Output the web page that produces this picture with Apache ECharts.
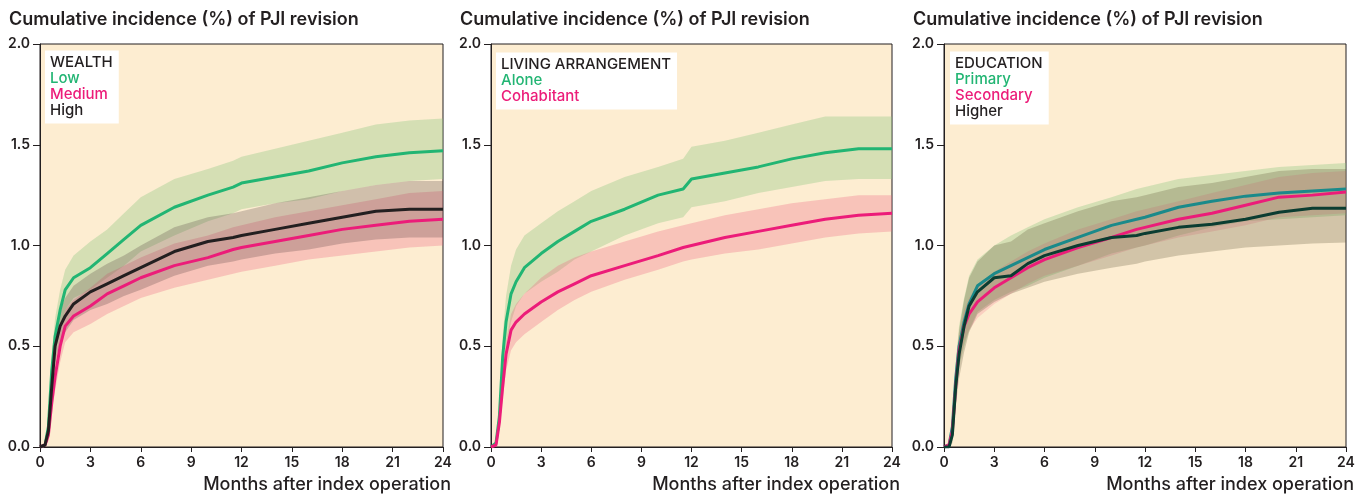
<!DOCTYPE html>
<html>
<head>
<meta charset="utf-8">
<script src="https://cdn.jsdelivr.net/npm/echarts@6/dist/echarts.min.js"></script>
<style>
  html, body { margin: 0; padding: 0; background: #fff; }
  #chart { width: 1356px; height: 495px; }
</style>
</head>
<body>
<div id="chart"></div>
<script>
  // months after index operation, shared by every curve
  const months = [0, 0.3, 0.5, 0.7, 0.9, 1.2, 1.5, 2, 3, 4, 5, 6, 8, 10, 11.5, 12, 14, 16, 18, 20, 22, 24];
  const xTicks = [0, 3, 6, 9, 12, 15, 18, 21, 24];
  const yTicks = [0, 0.5, 1.0, 1.5, 2.0];

  // WEALTH
  const wealthLow = [0, 0.01, 0.1, 0.38, 0.55, 0.68, 0.78, 0.84, 0.89, 0.96, 1.03, 1.1, 1.19, 1.25, 1.29, 1.31, 1.34, 1.37, 1.41, 1.44, 1.46, 1.47];
  const wealthLowLo = [0, 0, 0.06, 0.3, 0.46, 0.58, 0.68, 0.74, 0.78, 0.84, 0.9, 0.97, 1.05, 1.12, 1.16, 1.18, 1.21, 1.23, 1.27, 1.3, 1.32, 1.33];
  const wealthLowHi = [0, 0.02, 0.14, 0.46, 0.64, 0.78, 0.88, 0.95, 1.02, 1.08, 1.16, 1.24, 1.33, 1.38, 1.42, 1.44, 1.48, 1.52, 1.56, 1.6, 1.62, 1.63];
  const wealthMed = [0, 0.01, 0.06, 0.22, 0.35, 0.5, 0.6, 0.65, 0.7, 0.76, 0.8, 0.84, 0.9, 0.94, 0.98, 0.99, 1.02, 1.05, 1.08, 1.1, 1.12, 1.13];
  const wealthMedLo = [0, 0, 0.03, 0.16, 0.28, 0.42, 0.52, 0.57, 0.61, 0.66, 0.7, 0.74, 0.79, 0.83, 0.86, 0.87, 0.9, 0.93, 0.95, 0.97, 0.99, 1.0];
  const wealthMedHi = [0, 0.02, 0.1, 0.28, 0.42, 0.58, 0.68, 0.73, 0.79, 0.86, 0.9, 0.94, 1.01, 1.05, 1.09, 1.1, 1.14, 1.17, 1.2, 1.23, 1.26, 1.27];
  const wealthHigh = [0, 0.01, 0.08, 0.3, 0.5, 0.6, 0.65, 0.71, 0.77, 0.81, 0.85, 0.89, 0.97, 1.02, 1.04, 1.05, 1.08, 1.11, 1.14, 1.17, 1.18, 1.18];
  const wealthHighLo = [0, 0, 0.04, 0.23, 0.42, 0.52, 0.57, 0.63, 0.68, 0.71, 0.75, 0.78, 0.85, 0.9, 0.92, 0.93, 0.96, 0.98, 1.01, 1.03, 1.04, 1.04];
  const wealthHighHi = [0, 0.02, 0.12, 0.37, 0.58, 0.68, 0.74, 0.8, 0.86, 0.91, 0.95, 1.0, 1.09, 1.14, 1.16, 1.17, 1.21, 1.24, 1.27, 1.3, 1.32, 1.32];

  // LIVING ARRANGEMENT
  const alone = [0, 0.02, 0.15, 0.45, 0.62, 0.76, 0.82, 0.89, 0.96, 1.02, 1.07, 1.12, 1.18, 1.25, 1.28, 1.33, 1.36, 1.39, 1.43, 1.46, 1.48, 1.48];
  const aloneLo = [0, 0, 0.09, 0.34, 0.5, 0.62, 0.7, 0.76, 0.82, 0.87, 0.93, 0.97, 1.05, 1.11, 1.14, 1.19, 1.22, 1.26, 1.29, 1.32, 1.33, 1.33];
  const aloneHi = [0, 0.03, 0.2, 0.55, 0.75, 0.9, 0.98, 1.05, 1.11, 1.17, 1.22, 1.27, 1.34, 1.39, 1.43, 1.49, 1.52, 1.56, 1.6, 1.64, 1.64, 1.64];
  const cohab = [0, 0.01, 0.12, 0.3, 0.46, 0.58, 0.62, 0.66, 0.72, 0.77, 0.81, 0.85, 0.9, 0.95, 0.99, 1.0, 1.04, 1.07, 1.1, 1.13, 1.15, 1.16];
  const cohabLo = [0, 0, 0.09, 0.24, 0.38, 0.48, 0.52, 0.56, 0.62, 0.68, 0.73, 0.77, 0.83, 0.88, 0.92, 0.93, 0.96, 0.98, 1.01, 1.04, 1.06, 1.07];
  const cohabHi = [0, 0.02, 0.15, 0.35, 0.52, 0.66, 0.71, 0.76, 0.84, 0.9, 0.94, 0.97, 1.02, 1.07, 1.1, 1.11, 1.15, 1.18, 1.21, 1.23, 1.25, 1.25];

  // EDUCATION
  const primary = [0, 0.01, 0.1, 0.34, 0.5, 0.62, 0.71, 0.8, 0.86, 0.9, 0.94, 0.98, 1.04, 1.1, 1.13, 1.14, 1.19, 1.22, 1.245, 1.26, 1.27, 1.28];
  const primaryLo = [0, 0, 0.05, 0.26, 0.4, 0.5, 0.58, 0.67, 0.73, 0.77, 0.8, 0.84, 0.9, 0.96, 0.99, 1.0, 1.05, 1.09, 1.12, 1.13, 1.14, 1.15];
  const primaryHi = [0, 0.02, 0.15, 0.42, 0.6, 0.74, 0.85, 0.93, 1.0, 1.05, 1.09, 1.13, 1.19, 1.24, 1.28, 1.29, 1.33, 1.35, 1.37, 1.39, 1.4, 1.41];
  const secondary = [0, 0.01, 0.08, 0.3, 0.48, 0.6, 0.66, 0.72, 0.79, 0.84, 0.89, 0.93, 0.99, 1.04, 1.08, 1.09, 1.13, 1.16, 1.2, 1.24, 1.25, 1.265];
  const secondaryLo = [0, 0, 0.04, 0.24, 0.41, 0.52, 0.58, 0.64, 0.71, 0.76, 0.81, 0.85, 0.9, 0.95, 0.99, 1.0, 1.04, 1.07, 1.1, 1.14, 1.15, 1.16];
  const secondaryHi = [0, 0.02, 0.12, 0.36, 0.55, 0.68, 0.74, 0.8, 0.87, 0.92, 0.97, 1.01, 1.08, 1.13, 1.17, 1.18, 1.22, 1.26, 1.3, 1.34, 1.36, 1.37];
  const higher = [0, 0, 0.06, 0.3, 0.46, 0.6, 0.7, 0.77, 0.84, 0.85, 0.91, 0.95, 1.0, 1.04, 1.05, 1.06, 1.09, 1.105, 1.13, 1.165, 1.185, 1.185];
  const higherLo = [0, 0, 0.02, 0.2, 0.34, 0.47, 0.57, 0.66, 0.72, 0.76, 0.79, 0.82, 0.86, 0.89, 0.91, 0.92, 0.95, 0.97, 0.99, 1.0, 1.01, 1.015];
  const higherHi = [0, 0.01, 0.12, 0.4, 0.58, 0.73, 0.84, 0.92, 1.0, 1.02, 1.08, 1.11, 1.17, 1.22, 1.24, 1.25, 1.29, 1.31, 1.34, 1.37, 1.38, 1.38];

  const FONT = 'Inter, "Liberation Sans", sans-serif';
  const INK = '#231f20';
  const GREEN = '#22b573';
  const PINK = '#ec1c79';

  const panels = [
    {
      left: 40, width: 403, head: 'WEALTH', box: [45, 50], titleLeft: 9,
      groups: [
        {name: 'Low', text: GREEN, line: GREEN, band: 'rgba(140,200,130,0.36)', v: wealthLow, lo: wealthLowLo, hi: wealthLowHi},
        {name: 'Medium', text: PINK, line: PINK, band: 'rgba(240,100,130,0.3)', v: wealthMed, lo: wealthMedLo, hi: wealthMedHi},
        {name: 'High', text: INK, line: INK, band: 'rgba(80,60,60,0.26)', v: wealthHigh, lo: wealthHighLo, hi: wealthHighHi}
      ]
    },
    {
      left: 491, width: 401, head: 'LIVING ARRANGEMENT', box: [496, 52], titleLeft: 460,
      groups: [
        {name: 'Alone', text: GREEN, line: GREEN, band: 'rgba(140,200,130,0.36)', v: alone, lo: aloneLo, hi: aloneHi},
        {name: 'Cohabitant', text: PINK, line: PINK, band: 'rgba(240,100,130,0.3)', v: cohab, lo: cohabLo, hi: cohabHi}
      ]
    },
    {
      left: 944, width: 402, head: 'EDUCATION', box: [950, 51], titleLeft: 913,
      groups: [
        {name: 'Primary', text: GREEN, line: '#1b8a8a', band: 'rgba(140,200,130,0.36)', v: primary, lo: primaryLo, hi: primaryHi},
        {name: 'Secondary', text: PINK, line: PINK, band: 'rgba(240,100,130,0.22)', v: secondary, lo: secondaryLo, hi: secondaryHi},
        {name: 'Higher', text: INK, line: '#0b3d31', band: 'rgba(90,80,50,0.26)', v: higher, lo: higherLo, hi: higherHi}
      ]
    }
  ];

  const pairs = arr => months.map((m, i) => [m, arr[i]]);

  let grid = [], xAxis = [], yAxis = [], title = [], bands = [], lines = [];
  panels.forEach((p, k) => {
    grid.push({
      left: p.left, top: 44, width: p.width, height: 403,
      show: true, backgroundColor: '#fdedd1', borderColor: INK, borderWidth: 1,
      outerBoundsMode: 'none'
    });
    xAxis.push({
      gridIndex: k, type: 'value', min: 0, max: 24, interval: 3,
      name: 'Months after index operation', nameLocation: 'end', nameGap: 8,
      nameTextStyle: {fontFamily: FONT, fontSize: 18, fontWeight: 500, color: INK, align: 'right', verticalAlign: 'top', padding: [29, 0, 0, 0]},
      axisLine: {lineStyle: {color: INK, width: 1}},
      axisTick: {length: 5, lineStyle: {color: INK}},
      axisLabel: {fontFamily: FONT, fontSize: 14, fontWeight: 600, color: INK, margin: 9,
        formatter: v => xTicks.indexOf(v) >= 0 ? String(v) : ''},
      splitLine: {show: false}
    });
    yAxis.push({
      gridIndex: k, type: 'value', min: 0, max: 2, interval: 0.5,
      axisLine: {show: true, lineStyle: {color: INK, width: 1}},
      axisTick: {show: true, length: 7, lineStyle: {color: INK}},
      axisLabel: {fontFamily: FONT, fontSize: 14, fontWeight: 600, color: INK, margin: 10,
        formatter: v => yTicks.indexOf(v) >= 0 ? v.toFixed(1) : ''},
      splitLine: {show: false}
    });
    title.push({
      text: 'Cumulative incidence (%) of PJI revision',
      left: p.titleLeft, top: 11, padding: 0,
      textStyle: {fontFamily: FONT, fontSize: 18, fontWeight: 600, color: INK}
    });
    const rich = {h: {fontFamily: FONT, fontSize: 15, fontWeight: 500, color: INK, lineHeight: 16}};
    let txt = '{h|' + p.head + '}';
    p.groups.forEach((g, j) => {
      rich['g' + j] = {fontFamily: FONT, fontSize: 15, fontWeight: 500, color: g.text, lineHeight: 16};
      txt += '\n{g' + j + '|' + g.name + '}';
    });
    title.push({
      text: txt, left: p.box[0], top: p.box[1], backgroundColor: '#fff',
      padding: [4, 6, 6, 5], textStyle: {rich: rich}
    });
    p.groups.forEach((g, j) => {
      // confidence band: polygon along the upper bound, back along the lower bound
      bands.push({
        type: 'custom', xAxisIndex: k, yAxisIndex: k, silent: true, z: 1,
        data: [[12, 1]],
        renderItem: (params, api) => {
          const pts = [];
          months.forEach((m, i) => pts.push(api.coord([m, g.hi[i]])));
          for (let i = months.length - 1; i >= 0; i--) pts.push(api.coord([months[i], g.lo[i]]));
          return {type: 'polygon', shape: {points: pts}, style: {fill: g.band}};
        }
      });
      lines.push({
        type: 'line', name: g.name, xAxisIndex: k, yAxisIndex: k, symbol: 'none',
        lineStyle: {color: g.line, width: 3}, z: 3, data: pairs(g.v)
      });
    });
  });

  const chart = echarts.init(document.getElementById('chart'));
  chart.setOption({
    animation: false,
    title: title,
    grid: grid,
    xAxis: xAxis,
    yAxis: yAxis,
    series: bands.concat(lines)
  });
</script>
</body>
</html>
